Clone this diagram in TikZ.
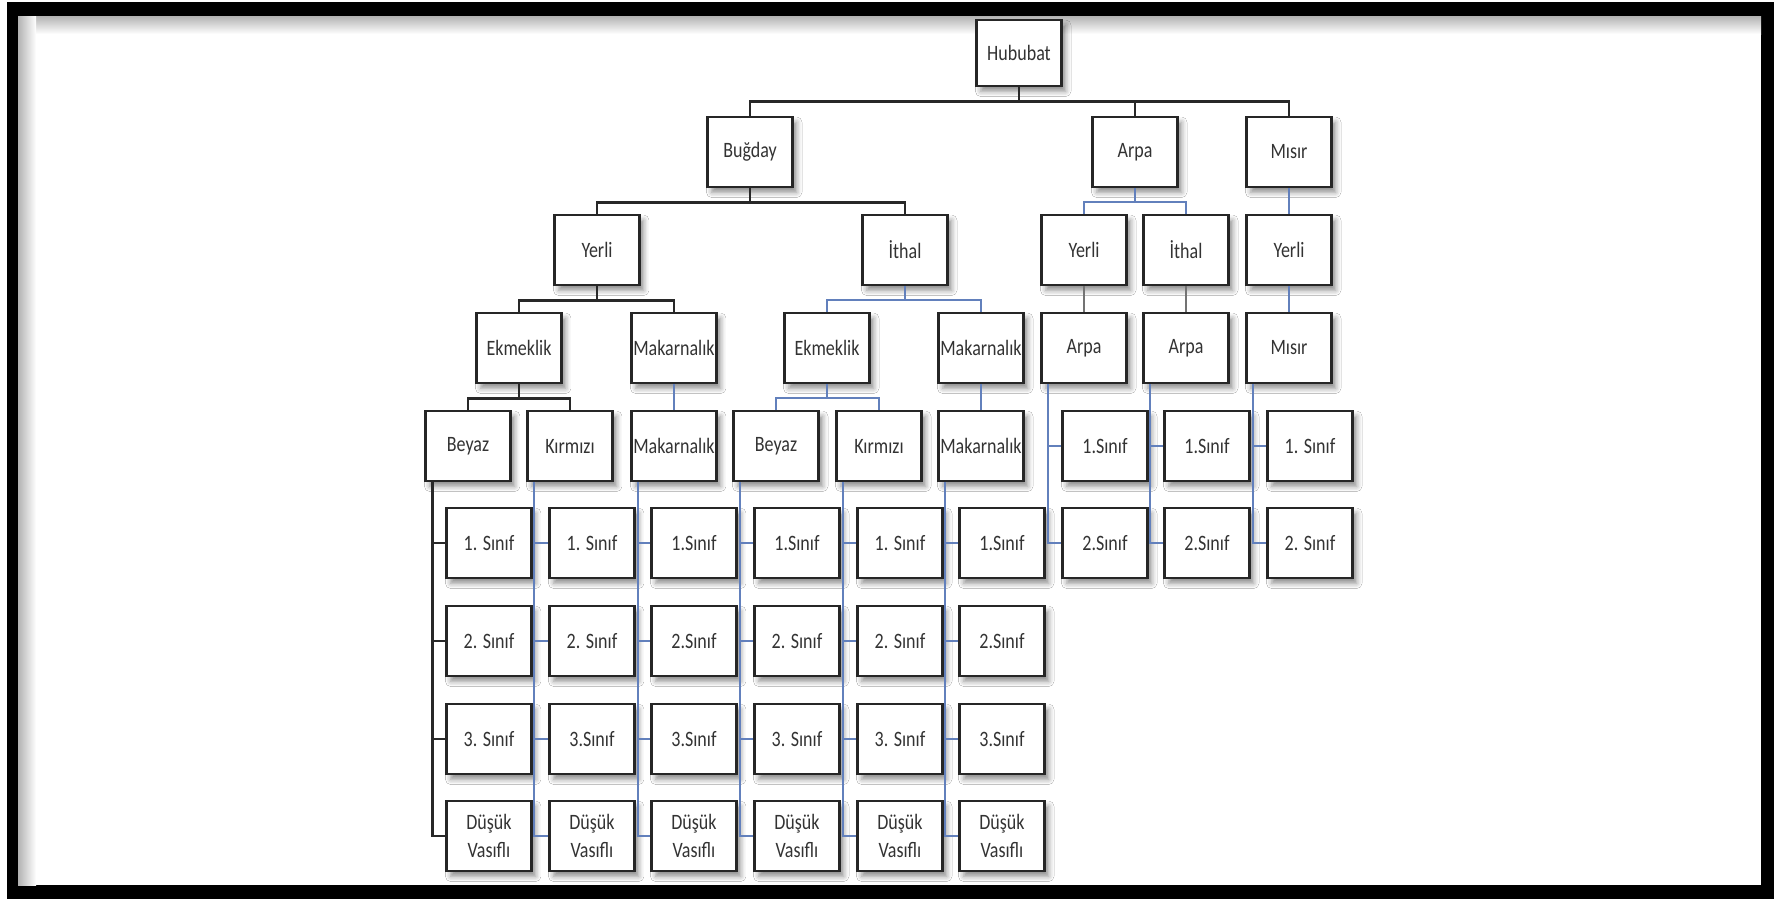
\documentclass[tikz,border=0pt]{standalone}
\usepackage{fontspec}
\setmainfont{Carlito}[FakeStretch=0.82]
\usepackage{xcolor}
\usepackage{tikz}
\usetikzlibrary{shadows.blur}
\definecolor{hatmavi}{RGB}{98,128,188}
\definecolor{hatkara}{RGB}{40,40,40}
\tikzset{
  kutu/.style={draw=black!85, line width=1.5pt, fill=white, minimum width=1.7cm,
    minimum height=1.4cm, inner sep=0pt, align=center, text=black!80,
    font=\fontsize{12.5}{15.5}\selectfont,
    blur shadow={shadow xshift=2.4pt, shadow yshift=-3pt, shadow blur radius=3pt, shadow opacity=45}},
  hat/.style={draw=hatkara, line width=1.5pt},
  mavi/.style={draw=hatmavi, line width=1.2pt},
}

\begin{document}
\begin{tikzpicture}[x=0.02cm, y=-0.02cm]
  \useasboundingbox (0,0) rectangle (1774,899);
  % ================================================================
  % frame
  % ================================================================
  \fill[white] (0,0) rectangle (1774,899);
  \fill[black] (7,2) rectangle (1774,899);
  \fill[white] (18,16) rectangle (1761,885);
  \shade[top color=black!30, bottom color=white] (18,16) rectangle (1761,34);
  \shade[left color=black!30, right color=white] (18,16) rectangle (36,885);
  % ================================================================
  % upper levels
  % ================================================================
  \node[kutu, minimum height=1.32cm] (hub) at (1019,53) {Hububat};
  \node[kutu] (bug) at (750,152) {Buğday};
  \node[kutu] (arpa) at (1135,152) {Arpa};
  \node[kutu] (misir) at (1289,152) {Mısır};
  \node[kutu] (bYer) at (597,250) {Yerli};
  \node[kutu] (bIth) at (905,250) {İthal};
  \node[kutu] (aYer) at (1084,250) {Yerli};
  \node[kutu] (aIth) at (1186,250) {İthal};
  \node[kutu] (mYer) at (1289,250) {Yerli};
  \node[kutu] (yEkm) at (519,348) {Ekmeklik};
  \node[kutu] (yMak) at (674,348) {Makarnalık};
  \node[kutu] (iEkm) at (827,348) {Ekmeklik};
  \node[kutu] (iMak) at (981,348) {Makarnalık};
  \node[kutu] (aArp) at (1084,348) {Arpa};
  \node[kutu] (iArp) at (1186,348) {Arpa};
  \node[kutu] (mMis) at (1289,348) {Mısır};
  \node[kutu] (yBey) at (468,446) {Beyaz};
  \node[kutu] (yKir) at (570,446) {Kırmızı};
  \node[kutu] (yMk) at (674,446) {Makarnalık};
  \node[kutu] (iBey) at (776,446) {Beyaz};
  \node[kutu] (iKir) at (879,446) {Kırmızı};
  \node[kutu] (iMk) at (981,446) {Makarnalık};
  % connectors -----------------------------------------------------
  \foreach \c in {bug, arpa, misir}
    \draw[hat] (hub.south) -- ++(0,14) -| (\c.north);
  \foreach \c in {bYer, bIth}
    \draw[hat] (bug.south) -- ++(0,14) -| (\c.north);
  \foreach \c in {aYer, aIth}
    \draw[mavi] (arpa.south) -- ++(0,14) -| (\c.north);
  \draw[mavi] (misir) -- (mYer);
  \foreach \c in {yEkm, yMak}
    \draw[hat] (bYer.south) -- ++(0,14) -| (\c.north);
  \foreach \c in {iEkm, iMak}
    \draw[mavi] (bIth.south) -- ++(0,14) -| (\c.north);
  \draw[mavi, draw=black!55, line width=1pt] (aYer) -- (aArp);
  \draw[mavi, draw=black!55, line width=1pt] (aIth) -- (iArp);
  \draw[mavi] (mYer) -- (mMis);
  \foreach \c in {yBey, yKir}
    \draw[hat] (yEkm.south) -- ++(0,14) -| (\c.north);
  \draw[mavi] (yMak) -- (yMk);
  \foreach \c in {iBey, iKir}
    \draw[mavi] (iEkm.south) -- ++(0,14) -| (\c.north);
  \draw[mavi] (iMak) -- (iMk);
  % ================================================================
  % classes (wheat)
  % ================================================================
  \foreach \p/\x/\la/\lb/\lc/\col in {
      yBey/489/{1. Sınıf}/{2. Sınıf}/{3. Sınıf}/hat,
      yKir/592/{1. Sınıf}/{2. Sınıf}/{3.Sınıf}/mavi,
      yMk/694/{1.Sınıf}/{2.Sınıf}/{3.Sınıf}/mavi,
      iBey/797/{1.Sınıf}/{2. Sınıf}/{3. Sınıf}/mavi,
      iKir/900/{1. Sınıf}/{2. Sınıf}/{3. Sınıf}/mavi,
      iMk/1002/{1.Sınıf}/{2.Sınıf}/{3.Sınıf}/mavi} {
    \node[kutu] (\p-1) at (\x,543) {\la};
    \node[kutu] (\p-2) at (\x,641) {\lb};
    \node[kutu] (\p-3) at (\x,739) {\lc};
    \node[kutu] (\p-4) at (\x,836) {Düşük\\Vasıflı};
    \foreach \k in {1,...,4}
      \draw[\col] (\p.south west) ++(8,0) |- (\p-\k.west);
  }
  % ================================================================
  % classes (barley, corn)
  % ================================================================
  \foreach \p/\x/\la/\lb in {
      aArp/1105/{1.Sınıf}/{2.Sınıf},
      iArp/1207/{1.Sınıf}/{2.Sınıf},
      mMis/1310/{1. Sınıf}/{2. Sınıf}} {
    \node[kutu] (\p-1) at (\x,446) {\la};
    \node[kutu] (\p-2) at (\x,543) {\lb};
    \foreach \k in {1,2}
      \draw[mavi] (\p.south west) ++(8,0) |- (\p-\k.west);
  }
\end{tikzpicture}
\end{document}
